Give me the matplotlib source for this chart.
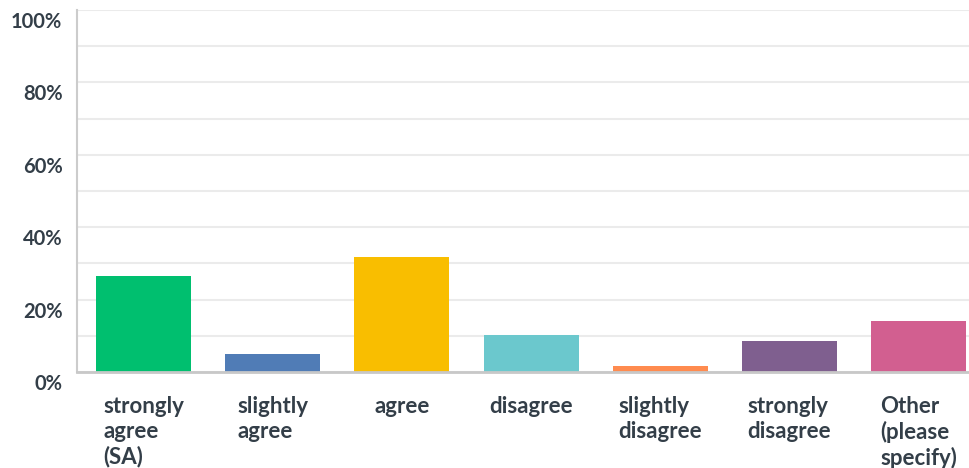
import matplotlib
matplotlib.use("Agg")
import matplotlib.pyplot as plt
from matplotlib.transforms import ScaledTranslation
from matplotlib.ticker import FixedLocator

categories = ["strongly\nagree\n(SA)", "slightly\nagree", "agree", "disagree",
              "slightly\ndisagree", "strongly\ndisagree", "Other\n(please\nspecify)"]
values = [26.5, 5.0, 31.8, 10.2, 1.7, 8.5, 14.1]
colors = ["#00bf6f", "#507cb6", "#f9be00", "#6bc8cd", "#ff8b4f", "#7f5f8f", "#d25f90"]
yticks = [0, 20, 40, 60, 80, 100]
ytick_labels = ["0%", "20%", "40%", "60%", "80%", "100%"]

text_color = "#333e48"
plt.rcParams['font.family'] = ['Lato', 'DejaVu Sans']

fig = plt.figure(figsize=(9.69, 4.68), dpi=100)
ax = fig.add_axes([77/969, 96/468, 892/969, 362/468])

x = list(range(len(categories)))
ax.bar(x, values, width=0.736, color=colors, zorder=3)

ax.set_xlim(-0.515, 6.39)
ax.set_ylim(0, 100)
ax.yaxis.set_major_locator(FixedLocator(yticks))
ax.set_yticklabels(ytick_labels)
ax.yaxis.set_minor_locator(FixedLocator(list(range(0, 101, 10))))
ax.grid(axis='y', which='both', color='#ebebeb', linewidth=1.5, zorder=0)
ax.tick_params(axis='y', which='both', length=0, pad=10.5, labelsize=14.5, labelcolor=text_color)
for lab in ax.get_yticklabels():
    lab.set_fontweight('bold')
    lab.set_transform(lab.get_transform() + ScaledTranslation(0, -10/100, fig.dpi_scale_trans))

ax.set_xticks(x)
ax.set_xticklabels(categories, multialignment='left', linespacing=1.2)
ax.tick_params(axis='x', length=0, pad=17.5, labelsize=16, labelcolor=text_color)
for lab in ax.get_xticklabels():
    lab.set_fontweight('bold')

for s in ['top', 'right']:
    ax.spines[s].set_visible(False)
ax.spines['left'].set_color('#cccccc')
ax.spines['left'].set_linewidth(1.5)
ax.spines['bottom'].set_color('#c8c8c8')
ax.spines['bottom'].set_linewidth(2)
ax.spines['bottom'].set_zorder(4)

fig.savefig("out.png", dpi=100)
